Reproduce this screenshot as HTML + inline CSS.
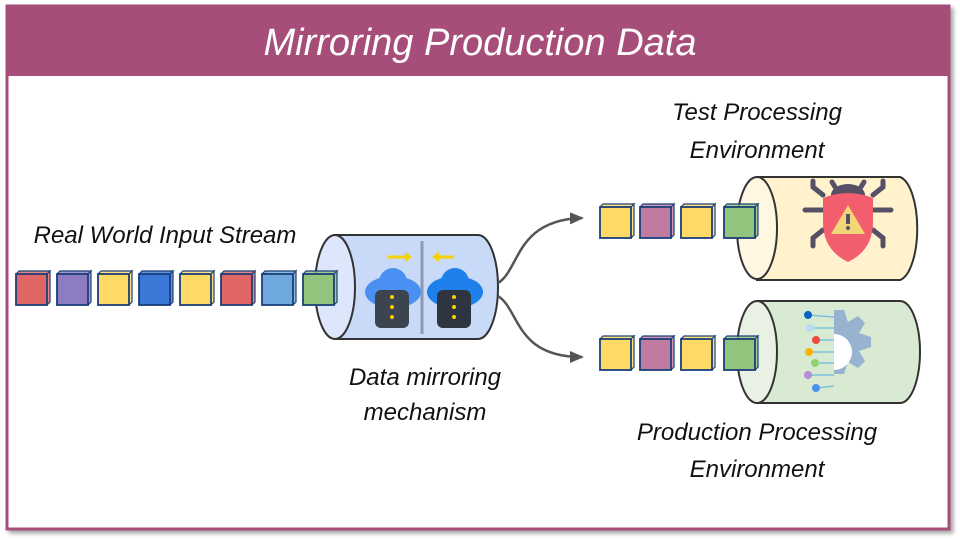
<!DOCTYPE html>
<html><head><meta charset="utf-8"><style>
html,body{margin:0;padding:0;background:#fff;}
svg{display:block;}
text{font-family:"Liberation Sans",sans-serif;font-style:italic;}
</style></head><body>
<svg width="960" height="540" viewBox="0 0 960 540" xmlns="http://www.w3.org/2000/svg">
<defs>
<filter id="sh" x="-5%" y="-5%" width="110%" height="110%"><feDropShadow dx="3" dy="3" stdDeviation="2" flood-color="#000" flood-opacity="0.35"/></filter>
<marker id="ar" markerWidth="14" markerHeight="12" refX="12" refY="6" orient="auto" markerUnits="userSpaceOnUse"><path d="M0,0 L14,6 L0,12 Z" fill="#555"/></marker>
<g id="cube"><path d="M0,3 l3,-3 h31 v31 l-3,3 z" fill="currentColor" opacity="0.8"/><rect x="0" y="3" width="31" height="31" fill="currentColor" stroke="#1a3f78" stroke-width="1.8"/><path d="M0,3 l3,-3 h31 l-3,3 M31,3 l3,-3 v31 l-3,3" fill="none" stroke="#1a3f78" stroke-width="1.2"/></g>
</defs>
<rect x="7" y="6" width="942" height="523" fill="#fff" stroke="#a64d79" stroke-width="3" filter="url(#sh)"/>
<rect x="7" y="6" width="942" height="70" fill="#a64d79"/>
<text x="480" y="55" text-anchor="middle" font-size="38" fill="#fff">Mirroring Production Data</text>

<text x="165" y="243" text-anchor="middle" font-size="24" fill="#111">Real World Input Stream</text>
<text x="425" y="385" text-anchor="middle" font-size="24" fill="#111">Data mirroring</text>
<text x="425" y="420" text-anchor="middle" font-size="24" fill="#111">mechanism</text>
<text x="757" y="120" text-anchor="middle" font-size="24" fill="#111">Test Processing</text>
<text x="757" y="158" text-anchor="middle" font-size="24" fill="#111">Environment</text>
<text x="757" y="440" text-anchor="middle" font-size="24" fill="#111">Production Processing</text>
<text x="757" y="477" text-anchor="middle" font-size="24" fill="#111">Environment</text>

<!-- cylinder 1 -->
<path d="M335,235 H478 A20,52 0 0 1 478,339 H335 Z" fill="#c9daf8" stroke="#333" stroke-width="2"/>
<ellipse cx="335" cy="287" rx="20" ry="52" fill="#dde6fb" stroke="#333" stroke-width="2"/>
<line x1="422" y1="241" x2="422" y2="334" stroke="#8a9ab0" stroke-width="3"/>
<path d="M388,257 h18" stroke="#f6d100" stroke-width="3"/><path d="M412,257 l-7,-5 v10z" fill="#f6d100"/>
<path d="M436,257 h18" stroke="#f6d100" stroke-width="3"/><path d="M432,257 l7,-5 v10z" fill="#f6d100"/>
<g><ellipse cx="393" cy="292" rx="28" ry="16" fill="#4a90f2"/><circle cx="393" cy="282" r="14" fill="#4a90f2"/><rect x="375" y="290" width="34" height="38" rx="6" fill="#3c4450"/><circle cx="392" cy="307" r="2" fill="#f6d100"/><circle cx="392" cy="317" r="2" fill="#f6d100"/><circle cx="392" cy="297" r="2" fill="#f6d100"/></g>
<g><ellipse cx="455" cy="292" rx="28" ry="16" fill="#1e80ea"/><circle cx="455" cy="282" r="14" fill="#1e80ea"/><rect x="437" y="290" width="34" height="38" rx="6" fill="#2e3440"/><circle cx="454" cy="307" r="2" fill="#f6d100"/><circle cx="454" cy="317" r="2" fill="#f6d100"/><circle cx="454" cy="297" r="2" fill="#f6d100"/></g>

<!-- input cubes -->
<g transform="translate(16,271)">
<use href="#cube" x="0" color="#e06666"/><use href="#cube" x="41" color="#8e7cc3"/><use href="#cube" x="82" color="#ffd966"/><use href="#cube" x="123" color="#3c78d8"/><use href="#cube" x="164" color="#ffd966"/><use href="#cube" x="205" color="#e06666"/><use href="#cube" x="246" color="#6fa8dc"/><use href="#cube" x="287" color="#93c47d"/>
</g>

<!-- arrows -->
<path d="M498,283 C520,270 515,220 582,218" fill="none" stroke="#555" stroke-width="2.5" marker-end="url(#ar)"/>
<path d="M498,296 C520,310 515,357 582,357" fill="none" stroke="#555" stroke-width="2.5" marker-end="url(#ar)"/>

<!-- cylinder test -->
<path d="M757,177 H900 A20,52 0 0 1 900,280 H757 Z" fill="#fff2cc" stroke="#333" stroke-width="2"/>
<ellipse cx="757" cy="228" rx="20" ry="51" fill="#fff7e1" stroke="#333" stroke-width="2"/>
<g stroke="#555066" stroke-width="5" stroke-linecap="round" fill="none">
<path d="M823,210 h-18 M823,195 l-10,-8 v-6 M823,230 l-10,8 v8 M873,210 h18 M873,195 l10,-8 v-6 M873,230 l10,8 v8 M838,192 l-6,-10 M858,192 l6,-10"/>
</g>
<ellipse cx="848" cy="195" rx="17" ry="11" fill="#555066"/>
<path d="M823,198 Q848,188 873,198 V222 Q873,250 848,262 Q823,250 823,222 Z" fill="#f25e6e"/>
<path d="M848,205 L865,234 H831 Z" fill="#f3d777"/><rect x="846" y="214" width="4" height="10" fill="#555066"/><circle cx="848" cy="228" r="2" fill="#555066"/>

<!-- cylinder prod -->
<path d="M757,301 H900 A20,51 0 0 1 900,403 H757 Z" fill="#d9ead3" stroke="#333" stroke-width="2"/>
<ellipse cx="757" cy="352" rx="20" ry="51" fill="#e8f1e4" stroke="#333" stroke-width="2"/>
<path d="M834,310 h10 l4,12 l10,-6 l7,7 l-6,10 l12,4 v10 l-12,4 l6,10 l-7,7 l-10,-6 l-4,12 h-10 Z" fill="#98b3cf"/>
<path d="M834,334 a18,18 0 0 1 0,36 Z" fill="#fff"/>
<g stroke="#7fbfe0" stroke-width="1.5"><line x1="808" y1="315" x2="834" y2="317"/><line x1="810" y1="328" x2="834" y2="328"/><line x1="816" y1="340" x2="834" y2="340"/><line x1="809" y1="352" x2="834" y2="352"/><line x1="815" y1="363" x2="834" y2="363"/><line x1="808" y1="375" x2="834" y2="375"/><line x1="816" y1="388" x2="834" y2="386"/></g>
<circle cx="808" cy="315" r="4" fill="#0b63c4"/><circle cx="810" cy="328" r="4" fill="#b9dcf5"/><circle cx="816" cy="340" r="4" fill="#e84c3d"/><circle cx="809" cy="352" r="4" fill="#f4b400"/><circle cx="815" cy="363" r="4" fill="#8fd26f"/><circle cx="808" cy="375" r="4" fill="#b48ed6"/><circle cx="816" cy="388" r="4" fill="#4a90f2"/>

<!-- output cubes -->
<g transform="translate(600,204)">
<use href="#cube" x="0" color="#ffd966"/><use href="#cube" x="40" color="#c27ba0"/><use href="#cube" x="81" color="#ffd966"/><use href="#cube" x="124" color="#93c47d"/>
</g>
<g transform="translate(600,336)">
<use href="#cube" x="0" color="#ffd966"/><use href="#cube" x="40" color="#c27ba0"/><use href="#cube" x="81" color="#ffd966"/><use href="#cube" x="124" color="#93c47d"/>
</g>
</svg>
</body></html>
